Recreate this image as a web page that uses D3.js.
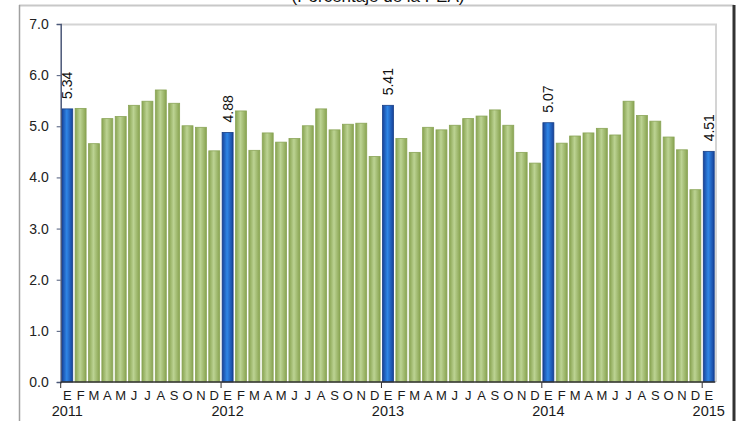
<!DOCTYPE html>
<html>
<head>
<meta charset="utf-8">
<script src="https://cdn.jsdelivr.net/npm/d3@7"></script>
<style>
  body { margin: 0; background: #fff; }
  svg { display: block; font-family: "Liberation Sans", Arial, sans-serif; }
</style>
</head>
<body>
<svg id="chart" width="739" height="421"></svg>
<script>
// monthly values, Jan 2011 .. Jan 2015
const months = ["E","F","M","A","M","J","J","A","S","O","N","D"];
const years = ["2011","2012","2013","2014","2015"];
const values = [
  5.34, 5.35, 4.66, 5.15, 5.19, 5.41, 5.49, 5.71, 5.45, 5.01, 4.98, 4.52,
  4.88, 5.30, 4.53, 4.87, 4.69, 4.76, 5.01, 5.34, 4.93, 5.04, 5.06, 4.41,
  5.41, 4.76, 4.49, 4.98, 4.93, 5.02, 5.15, 5.20, 5.32, 5.02, 4.49, 4.28,
  5.07, 4.67, 4.81, 4.87, 4.96, 4.83, 5.49, 5.21, 5.10, 4.79, 4.54, 3.76,
  4.51
];
const yTicks = [0, 1, 2, 3, 4, 5, 6, 7];

const svg = d3.select("#chart");

// gradients for the cylinder-ish bars
const defs = svg.append("defs");
function grad(id, edge, mid) {
  const g = defs.append("linearGradient").attr("id", id)
    .attr("x1", "0%").attr("x2", "100%").attr("y1", "0%").attr("y2", "0%");
  g.append("stop").attr("offset", "0%").attr("stop-color", edge);
  g.append("stop").attr("offset", "45%").attr("stop-color", mid);
  g.append("stop").attr("offset", "100%").attr("stop-color", edge);
}
grad("gBlue", "#17429a", "#2f86e6");
grad("gGreen", "#88a350", "#bcd393");

// outer frame (page cut)
svg.append("line").attr("x1", 19).attr("x2", 734).attr("y1", 5.5).attr("y2", 5.5)
  .attr("stroke", "#c8c8c8").attr("stroke-width", 2);
svg.append("line").attr("x1", 19.5).attr("x2", 19.5).attr("y1", 5).attr("y2", 421)
  .attr("stroke", "#a0a0a0").attr("stroke-width", 1.5);
svg.append("line").attr("x1", 734).attr("x2", 734).attr("y1", 5).attr("y2", 421)
  .attr("stroke", "#333").attr("stroke-width", 3);

// title, cut at the top edge like in the source image
svg.append("text").attr("x", 378).attr("y", 2).attr("text-anchor", "middle")
  .style("font-size", "17px").attr("fill", "#111").text("(Porcentaje de la PEA)");

const x = d3.scaleBand()
  .domain(values.map((_, i) => i))
  .range([60.7, 715.3])
  .paddingInner(0.18)
  .paddingOuter(0.08);

const y = d3.scaleLinear().domain([0, 7]).range([382, 24]);

// plot area border (light grey top and right)
svg.append("path")
  .attr("d", `M60.7,24.5 H716 V382`)
  .attr("fill", "none").attr("stroke", "#d4d4d4").attr("stroke-width", 2);

// bars
svg.selectAll(".bar")
  .data(values)
  .enter().append("rect")
  .attr("class", "bar")
  .attr("x", (d, i) => x(i))
  .attr("width", x.bandwidth())
  .attr("y", d => y(d))
  .attr("height", d => y(0) - y(d))
  .attr("fill", (d, i) => i % 12 === 0 ? "url(#gBlue)" : "url(#gGreen)")
  .attr("stroke", (d, i) => i % 12 === 0 ? "#173f86" : "#8aa557")
  .attr("stroke-width", 0.8);

// labels on the January bars
svg.selectAll(".label")
  .data(values.map((v, i) => ({v, i})).filter(d => d.i % 12 === 0))
  .enter().append("text")
  .attr("class", "label")
  .attr("transform", d => `translate(${x(d.i) + x.bandwidth() / 2 + 5},${y(d.v) - 10}) rotate(-90)`)
  .style("font-size", "14px")
  .attr("fill", "#111")
  .text(d => d.v.toFixed(2));

// y axis
const yAxis = svg.append("g")
  .attr("transform", "translate(60.7,0)")
  .call(d3.axisLeft(y).tickValues(yTicks).tickFormat(d3.format(".1f")).tickSize(4).tickPadding(8));
yAxis.select(".domain").attr("stroke", "#4b5878").attr("stroke-width", 1.5);
yAxis.selectAll(".tick line").attr("stroke", "#4b5878");
yAxis.selectAll("text").style("font-size", "14px").attr("fill", "#222").style("font-family", "'Liberation Sans', Arial, sans-serif");

// x axis line
svg.append("line").attr("x1", 60.7).attr("x2", 715.3).attr("y1", 382).attr("y2", 382)
  .attr("stroke", "#333").attr("stroke-width", 1.5);

// year boundary ticks
svg.selectAll(".ytick")
  .data(years)
  .enter().append("line")
  .attr("x1", (d, i) => 60.7 + i * 12 * x.step())
  .attr("x2", (d, i) => 60.7 + i * 12 * x.step())
  .attr("y1", 382).attr("y2", 388)
  .attr("stroke", "#333");

// month letters
svg.selectAll(".mlabel")
  .data(values)
  .enter().append("text")
  .attr("class", "mlabel")
  .attr("x", (d, i) => x(i) + x.bandwidth() / 2)
  .attr("y", 400)
  .attr("text-anchor", "middle")
  .style("font-size", "13px")
  .attr("fill", "#1a1a1a")
  .text((d, i) => months[i % 12]);

// year labels
svg.selectAll(".yr")
  .data(years)
  .enter().append("text")
  .attr("class", "yr")
  .attr("x", (d, i) => x(i * 12) + x.bandwidth() / 2)
  .attr("y", 416)
  .attr("text-anchor", "middle")
  .style("font-size", "14.5px")
  .attr("fill", "#1a1a1a")
  .text(d => d);
</script>
</body>
</html>
